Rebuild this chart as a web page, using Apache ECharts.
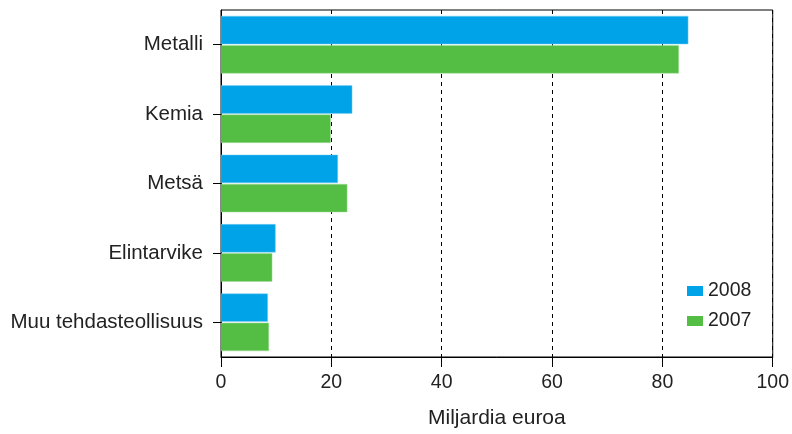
<!DOCTYPE html>
<html><head><meta charset="utf-8">
<script src="https://cdn.jsdelivr.net/npm/echarts@6/dist/echarts.min.js"></script>
<style>html,body{margin:0;padding:0;background:#fff}#c{width:792px;height:434px}</style>
</head><body><div id="c"></div>
<script>
const categories = ["Metalli", "Kemia", "Metsä", "Elintarvike", "Muu tehdasteollisuus"];
const values2008 = [84.7, 23.8, 21.2, 9.9, 8.5];
const values2007 = [83.0, 19.9, 22.9, 9.3, 8.7];
const seriesNames = ["2008", "2007"];
const xTicks = [0, 20, 40, 60, 80, 100];
const axisTitle = "Miljardia euroa";

const font = "Liberation Sans";
const txt = '#222';
const chart = echarts.init(document.getElementById('c'));
chart.setOption({
  animation: false,
  textStyle: { fontFamily: font },
  grid: { left: 221, right: 16, top: 10, bottom: 74, show: true, borderColor: '#000', borderWidth: 1 },
  legend: {
    orient: 'vertical', left: 682, top: 276, itemWidth: 16, itemHeight: 10, itemGap: 10,
    icon: 'rect', itemStyle: { borderWidth: 0 },
    textStyle: { fontFamily: font, fontSize: 19.5, color: txt },
    data: seriesNames
  },
  xAxis: [{
    type: 'value', min: xTicks[0], max: xTicks[xTicks.length - 1], interval: 20,
    name: axisTitle, nameLocation: 'middle', nameGap: 51,
    nameTextStyle: { fontFamily: font, fontSize: 21, color: txt },
    axisLine: { show: true, lineStyle: { color: '#000' } },
    axisTick: { show: true, length: 10, lineStyle: { color: '#000' } },
    axisLabel: { fontFamily: font, fontSize: 19.5, color: txt, margin: 16 },
    splitLine: { show: true, lineStyle: { color: '#000', type: [4, 4] } }
  }, {
    type: 'value', position: 'top', min: xTicks[0], max: xTicks[xTicks.length - 1], interval: 20,
    axisLine: { show: false },
    axisTick: { show: true, inside: true, length: 4, lineStyle: { color: '#000' } },
    axisLabel: { show: false },
    splitLine: { show: false }
  }],
  yAxis: {
    type: 'category', data: categories, inverse: true,
    axisLine: { show: true, lineStyle: { color: '#000' } },
    axisTick: { show: true, alignWithLabel: true, length: 8, lineStyle: { color: '#000' } },
    axisLabel: { fontFamily: font, fontSize: 20.5, color: txt, margin: 18 }
  },
  series: [
    { name: seriesNames[0], type: 'bar', data: values2008, barGap: '3%', barCategoryGap: '17%',
      itemStyle: { color: '#00a2e8', borderColor: '#7fd0f2', borderWidth: 0.5 } },
    { name: seriesNames[1], type: 'bar', data: values2007, barGap: '3%', barCategoryGap: '17%',
      itemStyle: { color: '#53be43', borderColor: '#a8dea0', borderWidth: 0.5 } }
  ]
});
</script></body></html>
